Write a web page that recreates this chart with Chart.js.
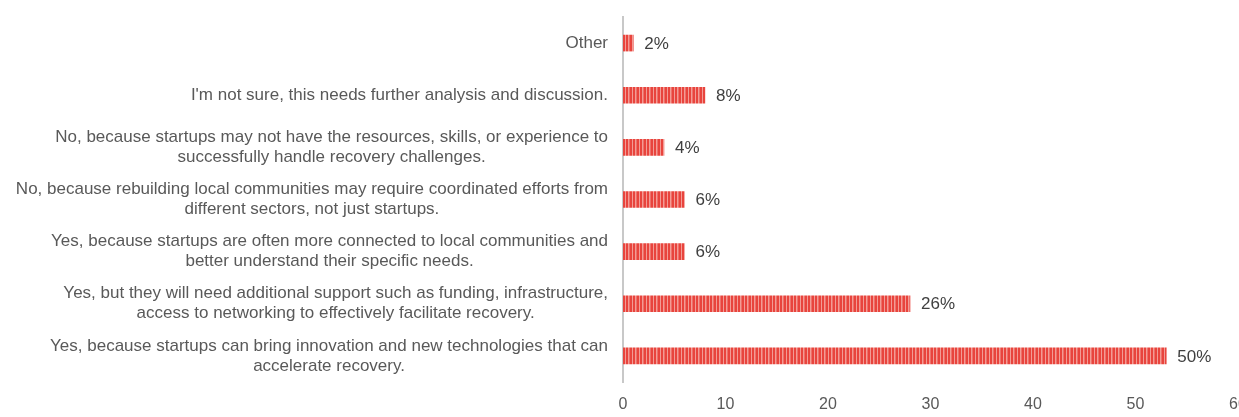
<!DOCTYPE html>
<html>
<head>
<meta charset="utf-8">
<script src="https://cdn.jsdelivr.net/npm/chart.js@4"></script>
<style>
  html, body { margin: 0; padding: 0; background: #fff; }
</style>
</head>
<body>
<canvas id="myChart" width="1239" height="417"></canvas>
<script>
// Survey answers, top to bottom
const answers = [
    ['Other'],
    ["I'm not sure, this needs further analysis and discussion."],
    ['No, because startups may not have the resources, skills, or experience to', 'successfully handle recovery challenges.'],
    ['No, because rebuilding local communities may require coordinated efforts from', 'different sectors, not just startups.'],
    ['Yes, because startups are often more connected to local communities and', 'better understand their specific needs.'],
    ['Yes, but they will need additional support such as funding, infrastructure,', 'access to networking to effectively facilitate recovery.'],
    ['Yes, because startups can bring innovation and new technologies that can', 'accelerate recovery.']
];
const responses = [1, 8, 4, 6, 6, 28, 53];          // number of respondents
const shareLabels = ['2%', '8%', '4%', '6%', '6%', '26%', '50%'];
const axisTicks = [0, 10, 20, 30, 40, 50, 60];

const FONT = '"Liberation Sans", Arial, sans-serif';

// Red bars with light vertical stripes (about every 3.5px)
function stripePattern() {
    const c = document.createElement('canvas');
    c.width = 7;
    c.height = 4;
    const g = c.getContext('2d');
    g.fillStyle = '#e8443d';
    g.fillRect(0, 0, 7, 4);
    g.fillStyle = '#f39b95';
    g.fillRect(2, 0, 1, 4);
    g.fillRect(5, 0, 1, 4);
    g.fillStyle = '#ee7069';
    g.fillRect(6, 0, 1, 4);
    return g.createPattern(c, 'repeat');
}

// Answer text: each block right-aligned to the axis, lines centred inside the block
const answerLabels = {
    id: 'answerLabels',
    afterDraw(chart) {
        const ctx = chart.ctx;
        const yScale = chart.scales.y;
        const right = chart.chartArea.left - 15;
        const lineH = 20;
        ctx.save();
        ctx.font = '17px ' + FONT;
        ctx.fillStyle = '#595959';
        ctx.textAlign = 'center';
        ctx.textBaseline = 'middle';
        answers.forEach((lines, i) => {
            const cy = yScale.getPixelForTick(i);
            const w = Math.max(...lines.map(l => ctx.measureText(l).width));
            const cx = right - w / 2;
            lines.forEach((line, j) => {
                ctx.fillText(line, cx, cy + (j - (lines.length - 1) / 2) * lineH);
            });
        });
        ctx.restore();
    }
};

// Percentage shares written after the end of each bar
const shareText = {
    id: 'shareText',
    afterDatasetsDraw(chart) {
        const ctx = chart.ctx;
        const bars = chart.getDatasetMeta(0).data;
        ctx.save();
        ctx.font = '17px ' + FONT;
        ctx.fillStyle = '#404040';
        ctx.textAlign = 'left';
        ctx.textBaseline = 'middle';
        bars.forEach((bar, i) => {
            ctx.fillText(shareLabels[i], bar.x + 11, bar.y + 1);
        });
        ctx.restore();
    }
};

const ctx = document.getElementById('myChart').getContext('2d');

const myChart = new Chart(ctx, {
    type: 'bar',
    data: {
        labels: answers,
        datasets: [{
            data: responses,
            backgroundColor: stripePattern(),
            borderWidth: 0,
            barThickness: 16
        }]
    },
    options: {
        indexAxis: 'y',
        responsive: false,
        animation: false,
        layout: {
            padding: { top: 17, right: 1, bottom: 0, left: 0 }
        },
        plugins: {
            legend: { display: false },
            tooltip: { enabled: false }
        },
        scales: {
            x: {
                min: 0,
                max: 60,
                afterBuildTicks: scale => {
                    scale.ticks = axisTicks.map(v => ({ value: v }));
                },
                afterFit: scale => {
                    scale.height = 35;
                    scale.paddingLeft = 0;
                    scale.paddingRight = 0;  // let the last label run off the edge
                },
                grid: { display: false, drawTicks: false },
                border: { display: false },
                ticks: {
                    color: '#595959',
                    padding: 13,
                    maxRotation: 0,
                    autoSkip: false,
                    font: { family: FONT, size: 16 }
                }
            },
            y: {
                afterFit: scale => {
                    scale.width = 623;
                },
                grid: { display: false, drawTicks: false },
                border: { display: true, color: '#c8c8c8', width: 2 },
                ticks: { display: false }
            }
        }
    },
    plugins: [answerLabels, shareText]
});
</script>
</body>
</html>
